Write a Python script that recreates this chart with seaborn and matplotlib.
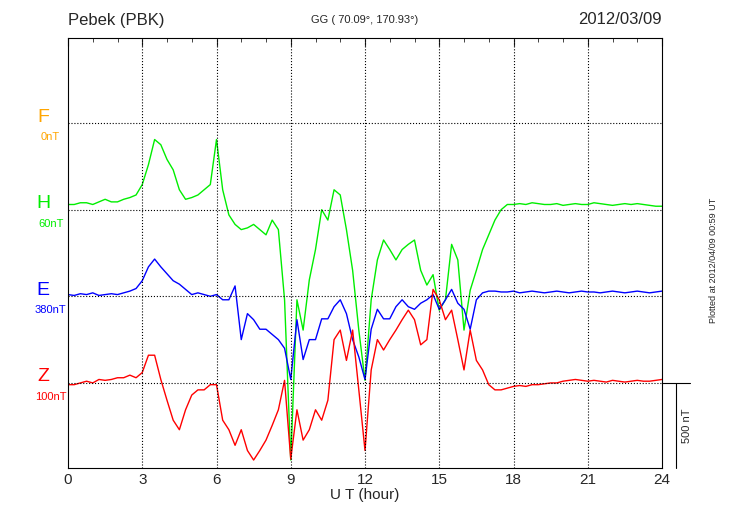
import numpy as np
import matplotlib
matplotlib.use('Agg')
import matplotlib.pyplot as plt
import seaborn as sns
import pandas as pd

# deviations (nT) every 15 minutes, 00:00 - 24:00 UT
h_vals = [30, 30, 40, 40, 30, 45, 60, 45, 45, 60, 70, 85,
          145, 260, 405, 375, 290, 230, 115, 60, 70, 85, 115, 145,
          405, 115, -30, -85, -115, -105, -85, -115, -145, -60, -115, -520,
          -1445, -520, -695, -405, -230, 0, -60, 115, 85, -115, -350, -695,
          -985, -520, -290, -175, -230, -290, -230, -200, -175, -350, -435, -375,
          -580, -520, -200, -290, -695, -465, -350, -230, -145, -60, 0, 30,
          30, 35, 30, 40, 35, 30, 30, 35, 25, 30, 35, 30, 30, 40, 35, 30,
          25, 30, 35, 30, 35, 30, 25, 20, 20]
e_vals = [10, 5, 15, 10, 20, 5, 10, 15, 10, 20, 30, 45,
          90, 170, 215, 170, 130, 90, 70, 40, 10, 20, 10, 0,
          10, -20, -20, 60, -250, -100, -135, -190, -190, -220, -250, -300,
          -480, -135, -365, -250, -250, -130, -130, -60, -20, -100, -250, -350,
          -480, -190, -75, -130, -130, -60, -20, -60, -75, -40, -20, 10,
          -75, -20, 40, -40, -75, -190, -20, 20, 30, 30,
          25, 25, 30, 20, 25, 30, 25, 20, 25, 30, 25, 20, 25, 30, 25, 25,
          20, 25, 30, 25, 20, 25, 30, 25, 20, 25, 30]
z_vals = [-10, -10, 0, 10, 0, 20, 15, 20, 30, 30, 45, 30,
          60, 160, 160, 20, -100, -215, -270, -155, -70, -40, -40, -10,
          -10, -215, -270, -360, -270, -390, -445, -390, -330, -245, -155, 15,
          -440, -155, -330, -270, -155, -215, -100, 250, 305, 130, 305, -40,
          -390, 75, 250, 190, 250, 305, 365, 420, 365, 220, 250, 540,
          480, 365, 420, 250, 75, 305, 130, 75, -10, -40, -40, -30,
          -20, -15, -20, -10, -10, -5, 0, 0, 10, 15, 20, 15, 10, 15, 10, 5,
          15, 10, 5, 10, 15, 10, 10, 15, 20]

components = ['F', 'H', 'E', 'Z']
colors = ['#ffa500', '#00ee00', '#0000ff', '#ff0000']
base_labels = ['0nT', '60nT', '380nT', '100nT']
offsets = [1500, 1000, 500, 0]

sns.set_style('white')
plt.rcParams['font.family'] = ['Liberation Sans', 'DejaVu Sans']

fig = plt.figure(figsize=(7.3, 5.2), dpi=100)
ax = fig.add_axes([68 / 730, 52 / 520, 594 / 730, 430 / 520])

for vals, off, col in zip([h_vals, e_vals, z_vals], offsets[1:], colors[1:]):
    df = pd.DataFrame({'t': np.arange(len(vals)) * 0.25, 'v': np.array(vals) + off})
    sns.lineplot(data=df, x='t', y='v', color=col, lw=1, ax=ax)

ax.set_xlim(0, 24)
ax.set_ylim(-491, 1991)
ax.set_xticks(range(0, 25, 3))
ax.set_xticks(range(0, 25), minor=True)
ax.set_yticks([])
ax.tick_params(axis='x', which='major', direction='in', length=6, labelsize=11, top=True)
ax.tick_params(axis='x', which='minor', direction='in', length=3, top=True)
for x in range(3, 24, 3):
    ax.axvline(x, color='black', ls=':', lw=0.8)
for off in offsets:
    ax.axhline(off, color='black', ls=':', lw=0.8)
for sp in ax.spines.values():
    sp.set_color('black')
    sp.set_linewidth(0.8)
ax.set_xlabel('U T (hour)', fontsize=11, labelpad=1)
ax.set_ylabel('')

for name, col, lab, off in zip(components, colors, base_labels, offsets):
    ax.text(-1.0, off + 35, name, color=col, fontsize=14, ha='center', va='center')
    ax.text(-0.7, off - 80, lab, color=col, fontsize=8, ha='center', va='center')

# scale bar
ax.plot([24, 25.15], [0, 0], color='black', lw=0.8, clip_on=False)
ax.plot([24.57, 24.57], [-491, 0], color='black', lw=0.8, clip_on=False)
ax.text(25.0, -245, '500 nT', rotation=90, fontsize=8, ha='center', va='center')

fig.text(68 / 730, 1 - 20 / 520, 'Pebek (PBK)', fontsize=12, va='center')
fig.text(0.5, 1 - 20 / 520, 'GG ( 70.09°, 170.93°)', fontsize=8, ha='center', va='center')
fig.text(662 / 730, 1 - 20 / 520, '2012/03/09', fontsize=12, ha='right', va='center')
fig.text(713 / 730, 0.5, 'Plotted at 2012/04/09 00:59 UT', rotation=90, fontsize=6.5,
         ha='center', va='center')

fig.savefig('out.png', dpi=100)
